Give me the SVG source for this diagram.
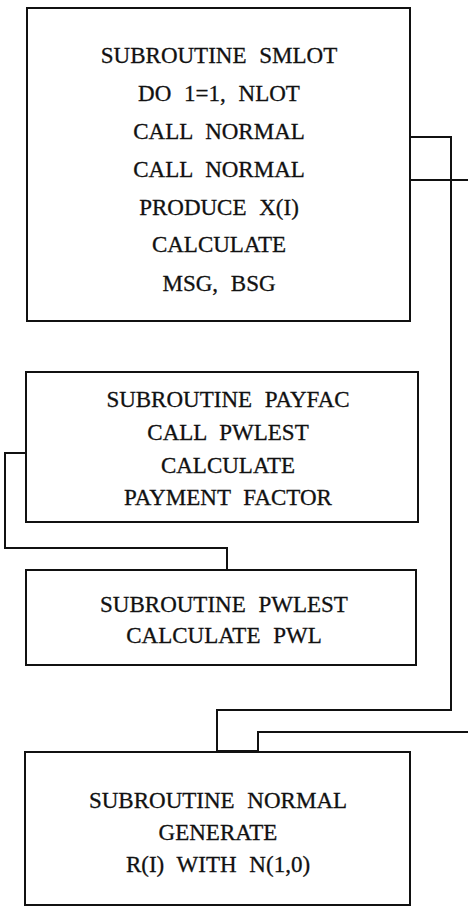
<svg xmlns="http://www.w3.org/2000/svg" width="468" height="907" viewBox="0 0 468 907">
<style>
.box{fill:#fff;stroke:#111;stroke-width:2}
.t{font-family:'Liberation Serif',serif;font-size:23px;fill:#111;stroke:#111;stroke-width:0.3;text-anchor:middle;word-spacing:7px}
.c{fill:none;stroke:#111;stroke-width:2}
</style>
<rect width="468" height="907" fill="#fff"/>
<g id="connectors">
<polyline class="c" points="410,137 451,137 451,710 217,710 217,752"/>
<polyline class="c" points="410,180 468,180"/>
<polyline class="c" points="468,732 258,732 258,752"/>
<polyline class="c" points="26,453 5,453 5,548 227,548 227,570"/>
<line x1="217" y1="752" x2="258" y2="752" stroke="#111" stroke-width="4"/>
</g>
<g id="smlot" font-family="Liberation Serif, serif">
<rect class="box" x="27" y="8" width="383" height="313"/>
<text class="t" x="219" y="63">SUBROUTINE SMLOT</text>
<text class="t" x="219" y="101">DO 1=1, NLOT</text>
<text class="t" x="219" y="139">CALL NORMAL</text>
<text class="t" x="219" y="177">CALL NORMAL</text>
<text class="t" x="219" y="215">PRODUCE X(I)</text>
<text class="t" x="219" y="252">CALCULATE</text>
<text class="t" x="219" y="291">MSG, BSG</text>
</g>
<g id="payfac" font-family="Liberation Serif, serif">
<rect class="box" x="26" y="372" width="392" height="150"/>
<text class="t" x="228" y="407">SUBROUTINE PAYFAC</text>
<text class="t" x="228" y="440">CALL PWLEST</text>
<text class="t" x="228" y="473">CALCULATE</text>
<text class="t" x="228" y="505">PAYMENT FACTOR</text>
</g>
<g id="pwlest" font-family="Liberation Serif, serif">
<rect class="box" x="26" y="570" width="390" height="95"/>
<text class="t" x="224" y="612">SUBROUTINE PWLEST</text>
<text class="t" x="224" y="643">CALCULATE PWL</text>
</g>
<g id="normal" font-family="Liberation Serif, serif">
<rect class="box" x="25" y="752" width="385" height="153"/>
<text class="t" x="218" y="808">SUBROUTINE NORMAL</text>
<text class="t" x="218" y="840">GENERATE</text>
<text class="t" x="218" y="872">R(I) WITH N(1,0)</text>
</g>
</svg>
